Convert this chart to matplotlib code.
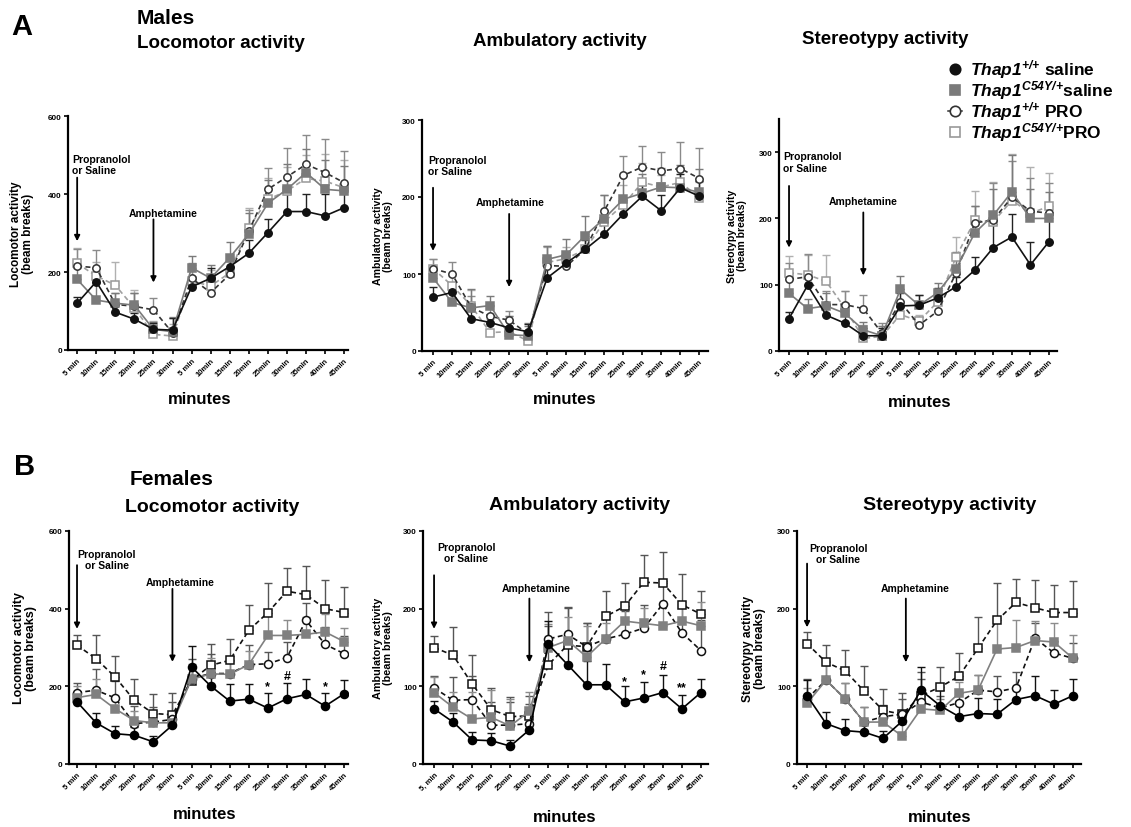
import numpy as np
import matplotlib.pyplot as plt
from matplotlib.lines import Line2D

plt.rcParams['font.family'] = 'Liberation Sans'
plt.rcParams['font.weight'] = 'bold'
plt.rcParams['mathtext.fontset'] = 'custom'
plt.rcParams['mathtext.it'] = 'Liberation Sans:italic:bold'
plt.rcParams['mathtext.rm'] = 'Liberation Sans:italic:bold'
plt.rcParams['mathtext.bf'] = 'Liberation Sans:italic:bold'

# x categories (two sessions: after propranolol/saline, after amphetamine)
tick_labels = ['5 min', '10min', '15min', '20min', '25min', '30min',
               '5 min', '10min', '15min', '20min', '25min', '30min', '35min', '40min', '45min']
tick_labels_b2 = ['5, min'] + tick_labels[1:]

group_labels = [r'$\mathit{Thap1}^{\mathit{{+}/{+}}}$ saline',
                r'$\mathit{Thap1}^{\mathit{C54Y/{+}}}$saline',
                r'$\mathit{Thap1}^{\mathit{{+}/{+}}}$ PRO',
                r'$\mathit{Thap1}^{\mathit{C54Y/{+}}}$PRO']

# ---- Males ----
m_loco_wt_sal = [120, 175, 97, 79, 53, 51, 162, 184, 214, 248, 301, 355, 355, 344, 365]
m_loco_ki_sal = [181, 128, 120, 115, 53, 47, 211, 184, 237, 297, 376, 412, 455, 412, 408]
m_loco_wt_pro = [215, 211, 117, 112, 103, 44, 184, 147, 194, 305, 412, 444, 476, 455, 429]
m_loco_ki_pro = [222, 190, 166, 108, 40, 36, 177, 164, 198, 314, 386, 408, 440, 433, 416]
m_loco_wt_sal_err = [15, 35, 20, 15, 15, 30, 20, 25, 20, 35, 35, 45, 45, 55, 45]
m_loco_ki_sal_err = [30, 45, 25, 30, 20, 35, 30, 35, 40, 55, 60, 65, 60, 75, 65]
m_loco_wt_pro_err = [45, 45, 30, 35, 30, 40, 40, 40, 35, 55, 55, 75, 75, 85, 80]
m_loco_ki_pro_err = [40, 35, 60, 45, 35, 30, 40, 40, 40, 50, 55, 60, 60, 70, 70]

m_amb_wt_sal = [70, 76, 42, 37, 30, 25, 95, 114, 132, 152, 178, 201, 182, 212, 201]
m_amb_ki_sal = [95, 63, 56, 59, 21, 20, 119, 125, 150, 172, 197, 205, 213, 212, 206]
m_amb_wt_pro = [107, 100, 57, 45, 40, 22, 111, 110, 132, 182, 228, 239, 234, 237, 224]
m_amb_ki_pro = [107, 85, 59, 24, 25, 13, 115, 120, 132, 168, 190, 219, 213, 219, 199]
m_amb_wt_sal_err = [13, 12, 10, 10, 10, 10, 15, 15, 12, 15, 18, 15, 20, 18, 20]
m_amb_ki_sal_err = [15, 20, 25, 13, 25, 12, 18, 20, 25, 30, 30, 25, 25, 30, 30]
m_amb_wt_pro_err = [12, 15, 15, 15, 12, 15, 25, 15, 15, 20, 25, 27, 25, 35, 40]
m_amb_ki_pro_err = [12, 12, 20, 18, 20, 10, 20, 15, 20, 15, 25, 25, 15, 20, 20]

m_ster_wt_sal = [49, 99, 54, 42, 23, 23, 68, 69, 80, 97, 122, 156, 172, 130, 165]
m_ster_ki_sal = [87, 64, 68, 57, 32, 23, 93, 69, 88, 124, 178, 205, 240, 200, 200]
m_ster_wt_pro = [108, 112, 70, 70, 64, 27, 74, 39, 60, 118, 193, 198, 232, 211, 208]
m_ster_ki_pro = [118, 115, 105, 65, 19, 22, 55, 45, 74, 142, 197, 195, 227, 208, 218]
m_ster_wt_sal_err = [10, 20, 15, 12, 12, 12, 20, 15, 15, 15, 20, 35, 35, 35, 40]
m_ster_ki_sal_err = [25, 15, 20, 15, 12, 15, 20, 15, 15, 25, 40, 40, 55, 45, 40]
m_ster_wt_pro_err = [25, 35, 20, 20, 20, 15, 20, 12, 15, 20, 25, 55, 55, 50, 45]
m_ster_ki_pro_err = [25, 30, 40, 25, 20, 15, 20, 10, 12, 30, 45, 60, 70, 70, 50]

# ---- Females ----
f_loco_wt_sal = [160, 106, 78, 74, 57, 100, 250, 201, 162, 167, 144, 168, 179, 149, 181]
f_loco_ki_sal = [171, 179, 142, 112, 106, 106, 218, 232, 231, 256, 331, 331, 334, 340, 315]
f_loco_wt_pro = [184, 190, 170, 104, 108, 115, 220, 233, 233, 256, 258, 274, 370, 308, 284]
f_loco_ki_pro = [306, 271, 224, 164, 130, 127, 215, 254, 267, 344, 390, 445, 436, 400, 390]
f_loco_wt_sal_err = [15, 25, 20, 20, 15, 20, 55, 45, 45, 40, 40, 40, 40, 35, 35]
f_loco_ki_sal_err = [30, 40, 30, 25, 30, 25, 40, 40, 35, 35, 65, 40, 45, 45, 35]
f_loco_wt_pro_err = [25, 55, 45, 45, 40, 45, 50, 50, 45, 50, 30, 40, 45, 45, 45]
f_loco_ki_pro_err = [25, 60, 55, 55, 50, 55, 35, 55, 55, 65, 75, 60, 75, 75, 65]

f_amb_wt_sal = [71, 54, 31, 30, 23, 44, 154, 128, 102, 102, 80, 85, 92, 71, 92]
f_amb_ki_sal = [92, 73, 58, 60, 49, 68, 150, 159, 138, 161, 184, 181, 178, 184, 178]
f_amb_wt_pro = [98, 82, 83, 50, 50, 52, 161, 167, 151, 161, 167, 175, 206, 169, 146]
f_amb_ki_pro = [150, 140, 103, 70, 61, 62, 128, 153, 151, 190, 203, 234, 233, 205, 193]
f_amb_wt_sal_err = [10, 12, 10, 10, 8, 10, 30, 25, 30, 27, 20, 20, 22, 18, 18]
f_amb_ki_sal_err = [20, 20, 35, 35, 35, 25, 30, 30, 40, 20, 20, 20, 25, 25, 30]
f_amb_wt_pro_err = [15, 30, 30, 30, 30, 25, 35, 35, 30, 35, 30, 30, 30, 35, 40]
f_amb_ki_pro_err = [15, 37, 37, 28, 25, 25, 50, 48, 30, 33, 30, 35, 40, 40, 30]

f_ster_wt_sal = [88, 52, 43, 41, 33, 55, 95, 75, 61, 65, 64, 83, 88, 77, 88]
f_ster_ki_sal = [78, 108, 84, 54, 54, 36, 71, 69, 91, 95, 148, 150, 159, 157, 136]
f_ster_wt_pro = [84, 108, 84, 54, 61, 64, 80, 72, 79, 95, 93, 98, 162, 143, 136]
f_ster_ki_pro = [155, 131, 120, 94, 69, 64, 88, 99, 113, 149, 185, 208, 201, 195, 195]
f_ster_wt_sal_err = [20, 15, 15, 10, 10, 12, 30, 20, 20, 20, 20, 15, 25, 18, 22]
f_ster_ki_sal_err = [20, 25, 20, 20, 20, 15, 20, 15, 15, 20, 40, 35, 25, 25, 30]
f_ster_wt_pro_err = [25, 20, 20, 20, 15, 20, 30, 15, 12, 20, 20, 20, 20, 15, 20]
f_ster_ki_pro_err = [15, 22, 27, 32, 28, 27, 30, 26, 30, 40, 48, 30, 36, 36, 40]

# significance marks (Thap1+/+ saline vs others)
f_loco_sig = ['*', '#', '*']
f_loco_sig_idx = [10, 11, 13]
f_loco_sig_y = [200, 226, 200]
f_amb_sig = ['*', '*', '#', '**']
f_amb_sig_idx = [10, 11, 12, 13]
f_amb_sig_y = [107, 116, 126, 99]

# styles: wt saline, ki saline, wt PRO, ki PRO
male_styles = [
    dict(color='#111111', marker='o', mfc='#111111', mec='#111111', ls='-', ecol='#222222'),
    dict(color='#7a7a7a', marker='s', mfc='#7a7a7a', mec='#7a7a7a', ls='-', ecol='#7a7a7a'),
    dict(color='#333333', marker='o', mfc='white', mec='#333333', ls=(0, (3, 2)), ecol='#8a8a8a'),
    dict(color='#a0a0a0', marker='s', mfc='white', mec='#999999', ls=(0, (3, 2)), ecol='#b0b0b0'),
]
female_styles = [
    dict(color='#000000', marker='o', mfc='#000000', mec='#000000', ls='-', ecol='#111111'),
    dict(color='#808080', marker='s', mfc='#808080', mec='#808080', ls='-', ecol='#8c8c8c'),
    dict(color='#111111', marker='o', mfc='white', mec='#111111', ls=(0, (3, 2)), ecol='#555555'),
    dict(color='#111111', marker='s', mfc='white', mec='#111111', ls=(0, (3, 2)), ecol='#555555'),
]

fig = plt.figure(figsize=(11.31, 8.28), dpi=100)
x = np.arange(len(tick_labels))
W, H = 1131.0, 828.0


def draw_panel(rect, means, errs, styles, ms, ylim, yticks, xlim, labels,
               ylabel, ylsize, ylx):
    ax = fig.add_axes(rect)
    for i in [3, 2, 1, 0]:
        st = styles[i]
        ax.errorbar(x, means[i], yerr=[np.zeros(len(x)), errs[i]], fmt='none',
                    ecolor=st['ecol'], elinewidth=1.0, capsize=3, capthick=1.0, zorder=2)
    for i in [3, 2, 1, 0]:
        st = styles[i]
        ax.plot(x, means[i], color=st['color'], ls=st['ls'], lw=1.2,
                marker=st['marker'], ms=ms, mfc=st['mfc'], mec=st['mec'], mew=1.1,
                zorder=3 + (3 - i))
    ax.set_ylim(*ylim)
    ax.set_xlim(*xlim)
    ax.set_yticks(yticks)
    ax.set_xticks(x)
    ax.set_xticklabels(labels, rotation=45, ha='right', rotation_mode='anchor',
                       fontsize=5.6, fontweight='bold')
    ax.tick_params(axis='y', labelsize=5.8, length=3, width=1.2, pad=1.5)
    ax.tick_params(axis='x', length=3, width=1.2, pad=2)
    for s in ['top', 'right']:
        ax.spines[s].set_visible(False)
    for s in ['left', 'bottom']:
        ax.spines[s].set_linewidth(1.6)
    ax.set_ylabel(ylabel, fontsize=ylsize, fontweight='bold', linespacing=1.0)
    ax.yaxis.label.set_va('center')
    ax.yaxis.set_label_coords(ylx, 0.5)
    return ax


def arrow(ax, xpos, y0, y1):
    ax.annotate('', xy=(xpos, y1), xytext=(xpos, y0),
                arrowprops=dict(arrowstyle='-|>', color='black', lw=1.3,
                                mutation_scale=8, shrinkA=0, shrinkB=0))


loco_lab = 'Locomotor activity\n(beam breaks)'
amb_lab = 'Ambulatory activity\n(beam breaks)'
ster_lab = 'Stereotypy activity\n(beam breaks)'

# ---- Row A ----
a1 = draw_panel([68 / W, 1 - 351 / H, 280 / W, 234 / H],
                [m_loco_wt_sal, m_loco_ki_sal, m_loco_wt_pro, m_loco_ki_pro],
                [m_loco_wt_sal_err, m_loco_ki_sal_err, m_loco_wt_pro_err, m_loco_ki_pro_err],
                male_styles, 5.3, (0, 600), [0, 200, 400, 600], (-0.48, 14.2),
                tick_labels, loco_lab, 8.5, -0.165)
a1.text(-0.27, 502, 'Propranolol\nor Saline', ha='left', va='top', fontsize=7.5,
        fontweight='bold', linespacing=1.15)
arrow(a1, 0, 442, 279)
a1.text(4.5, 352, 'Amphetamine', ha='center', va='center', fontsize=7.5, fontweight='bold')
arrow(a1, 4, 335, 173)

a2 = draw_panel([422 / W, 1 - 352 / H, 286 / W, 231 / H],
                [m_amb_wt_sal, m_amb_ki_sal, m_amb_wt_pro, m_amb_ki_pro],
                [m_amb_wt_sal_err, m_amb_ki_sal_err, m_amb_wt_pro_err, m_amb_ki_pro_err],
                male_styles, 5.3, (0, 300), [0, 100, 200, 300], (-0.58, 14.45),
                tick_labels, amb_lab, 7.6, -0.137)
a2.text(-0.26, 255, 'Propranolol\nor Saline', ha='left', va='top', fontsize=7.5,
        fontweight='bold', linespacing=1.15)
arrow(a2, 0, 212, 130)
a2.text(4.05, 193, 'Amphetamine', ha='center', va='center', fontsize=7.5, fontweight='bold')
arrow(a2, 4, 178, 83)

a3 = draw_panel([779 / W, 1 - 352 / H, 278 / W, 232 / H],
                [m_ster_wt_sal, m_ster_ki_sal, m_ster_wt_pro, m_ster_ki_pro],
                [m_ster_wt_sal_err, m_ster_ki_sal_err, m_ster_wt_pro_err, m_ster_ki_pro_err],
                male_styles, 5.3, (0, 350), [0, 100, 200, 300], (-0.54, 14.43),
                tick_labels, ster_lab, 7.6, -0.151)
a3.text(-0.32, 301, 'Propranolol\nor Saline', ha='left', va='top', fontsize=7.5,
        fontweight='bold', linespacing=1.15)
arrow(a3, 0, 249, 156)
a3.text(3.98, 226, 'Amphetamine', ha='center', va='center', fontsize=7.5, fontweight='bold')
arrow(a3, 4, 209, 114)

# ---- Row B ----
b1 = draw_panel([69 / W, 1 - 765 / H, 279 / W, 233 / H],
                [f_loco_wt_sal, f_loco_ki_sal, f_loco_wt_pro, f_loco_ki_pro],
                [f_loco_wt_sal_err, f_loco_ki_sal_err, f_loco_wt_pro_err, f_loco_ki_pro_err],
                female_styles, 5.8, (0, 600), [0, 200, 400, 600], (-0.42, 14.2),
                tick_labels, loco_lab, 9, -0.158)
b1.text(1.57, 554, 'Propranolol\nor Saline', ha='center', va='top', fontsize=7.5,
        fontweight='bold', linespacing=1.15)
arrow(b1, 0, 512, 348)
b1.text(5.4, 469, 'Amphetamine', ha='center', va='center', fontsize=7.5, fontweight='bold')
arrow(b1, 5, 451, 263)
for s, i, yy in zip(f_loco_sig, f_loco_sig_idx, f_loco_sig_y):
    b1.text(i, yy, s, ha='center', va='center', fontsize=9, fontweight='bold')

b2 = draw_panel([423 / W, 1 - 765 / H, 285 / W, 233 / H],
                [f_amb_wt_sal, f_amb_ki_sal, f_amb_wt_pro, f_amb_ki_pro],
                [f_amb_wt_sal_err, f_amb_ki_sal_err, f_amb_wt_pro_err, f_amb_ki_pro_err],
                female_styles, 5.8, (0, 300), [0, 100, 200, 300], (-0.58, 14.37),
                tick_labels_b2, amb_lab, 7.8, -0.14)
b2.text(1.68, 286, 'Propranolol\nor Saline', ha='center', va='top', fontsize=7.5,
        fontweight='bold', linespacing=1.15)
arrow(b2, 0, 243, 174)
b2.text(5.35, 226, 'Amphetamine', ha='center', va='center', fontsize=7.5, fontweight='bold')
arrow(b2, 5, 213, 131)
for s, i, yy in zip(f_amb_sig, f_amb_sig_idx, f_amb_sig_y):
    b2.text(i, yy, s, ha='center', va='center', fontsize=9, fontweight='bold')

b3 = draw_panel([797 / W, 1 - 765 / H, 284 / W, 233 / H],
                [f_ster_wt_sal, f_ster_ki_sal, f_ster_wt_pro, f_ster_ki_pro],
                [f_ster_wt_sal_err, f_ster_ki_sal_err, f_ster_wt_pro_err, f_ster_ki_pro_err],
                female_styles, 5.8, (0, 300), [0, 100, 200, 300], (-0.53, 14.42),
                tick_labels, ster_lab, 8.6, -0.151)
b3.text(1.63, 285, 'Propranolol\nor Saline', ha='center', va='top', fontsize=7.5,
        fontweight='bold', linespacing=1.15)
arrow(b3, 0, 258, 176)
b3.text(5.68, 226, 'Amphetamine', ha='center', va='center', fontsize=7.5, fontweight='bold')
arrow(b3, 5.2, 213, 131)


# ---- headings ----
def ftext(px, py, s, size, ha='left'):
    fig.text(px / W, 1 - py / H, s, ha=ha, va='center', fontsize=size, fontweight='bold')


ftext(22, 27, 'A', 21, ha='center')
ftext(137, 18, 'Males', 15)
ftext(137, 44, 'Locomotor activity', 13.5)
ftext(560, 42, 'Ambulatory activity', 13.5, ha='center')
ftext(885, 40, 'Stereotypy activity', 13.5, ha='center')

ftext(25, 467, 'B', 21, ha='center')
ftext(130, 480, 'Females', 15)
ftext(125, 507, 'Locomotor activity', 14)
ftext(580, 505, 'Ambulatory activity', 14, ha='center')
ftext(950, 505, 'Stereotypy activity', 14, ha='center')

for px, py in [(200, 400), (565, 400), (920, 403), (205, 815), (565, 818), (940, 818)]:
    ftext(px, py, 'minutes', 12, ha='center')

# ---- legend (drawn by hand to get the tight row spacing) ----
legend_rows_y = [70, 91, 112, 133]
for st, lab, py in zip(male_styles, group_labels, legend_rows_y):
    yf = 1 - py / H
    if st['ls'] != '-' and st['marker'] == 'o':
        fig.add_artist(Line2D([948 / W, 962 / W], [yf, yf], transform=fig.transFigure,
                              color=st['color'], lw=1.1))
    fig.add_artist(Line2D([955 / W], [yf], transform=fig.transFigure, ls='none',
                          marker=st['marker'], ms=7.5, mfc=st['mfc'], mec=st['mec'], mew=1.2))
    fig.text(970 / W, yf, lab, ha='left', va='center', fontsize=12.5, fontweight='bold')

fig.savefig('out.png', dpi=100)
